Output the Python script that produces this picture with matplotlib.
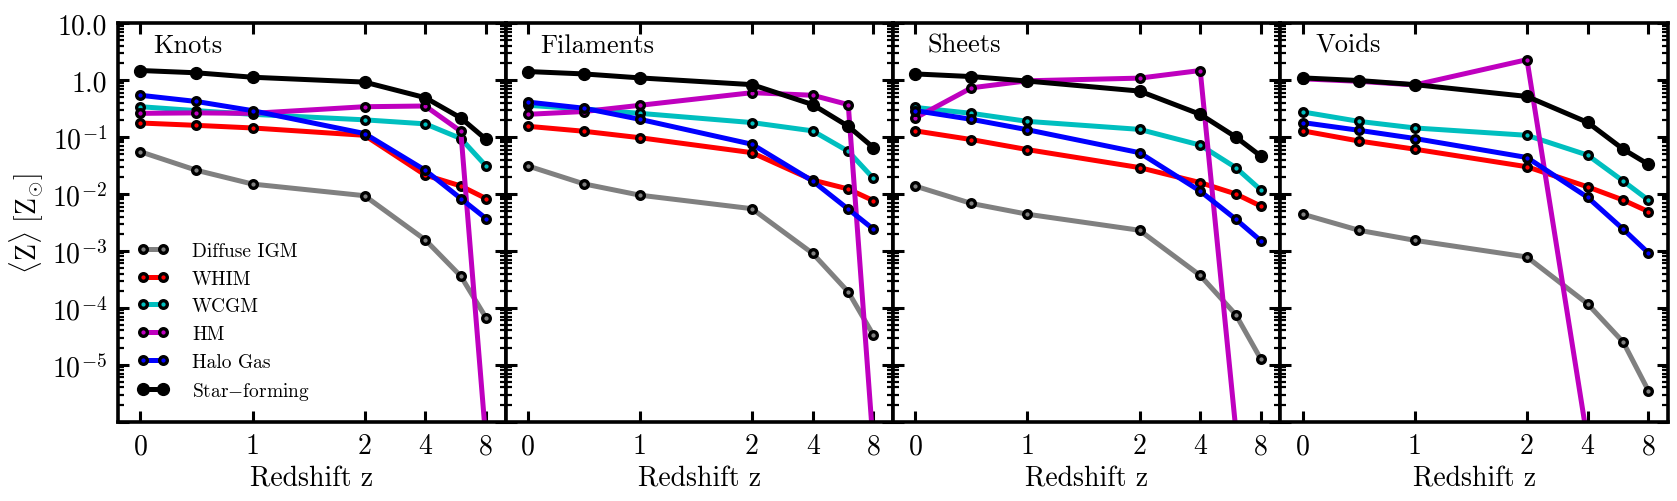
import numpy as np
import matplotlib
matplotlib.use("Agg")
import matplotlib.pyplot as plt

plt.rcParams['font.family'] = 'serif'
plt.rcParams['font.serif'] = ['cmr10']
plt.rcParams['mathtext.fontset'] = 'cm'
plt.rcParams['axes.unicode_minus'] = False
plt.rcParams['axes.formatter.use_mathtext'] = True

# ===== data =====
redshift = [0, 0.5, 1, 2, 4, 6, 8]
panel_names = ['Knots', 'Filaments', 'Sheets', 'Voids']
phase_names = ['Diffuse IGM', 'WHIM', 'WCGM', 'HM', 'Halo Gas', r'Star$-$forming']
phase_colors = ['gray', 'r', 'c', 'm', 'b', 'k']

# mean metallicity per phase, one list per panel
diffuse = [
    [0.055, 0.026, 0.0149, 0.0093, 1.56e-3, 3.6e-4, 6.7e-5],
    [0.031, 0.015, 0.0095, 0.0055, 9.0e-4, 1.9e-4, 3.3e-5],
    [0.0137, 0.0068, 0.0044, 0.0023, 3.7e-4, 7.6e-5, 1.25e-5],
    [0.0044, 0.0023, 0.00153, 7.8e-4, 1.17e-4, 2.5e-5, 3.5e-6],
]
whim = [
    [0.176, 0.16, 0.144, 0.107, 0.0214, 0.0138, 0.0083],
    [0.154, 0.126, 0.097, 0.053, 0.0175, 0.0122, 0.0076],
    [0.128, 0.09, 0.06, 0.029, 0.0158, 0.010, 0.0061],
    [0.128, 0.085, 0.061, 0.030, 0.0133, 0.0078, 0.0049],
]
wcgm = [
    [0.34, 0.29, 0.25, 0.20, 0.17, 0.094, 0.031],
    [0.36, 0.31, 0.26, 0.179, 0.128, 0.056, 0.0187],
    [0.33, 0.26, 0.188, 0.136, 0.072, 0.029, 0.0117],
    [0.275, 0.188, 0.144, 0.107, 0.048, 0.0168, 0.0078],
]
hm = [
    [0.26, 0.265, 0.26, 0.34, 0.35, 0.126, 4.5e-7],
    [0.25, 0.28, 0.36, 0.60, 0.54, 0.37, 3.4e-7],
    [0.216, 0.73, 0.97, 1.08, 1.47, 7.5e-7, 1e-8],
    [1.05, 0.95, 0.82, 2.28, 4.5e-7, 1e-8, 1e-9],
]
halo = [
    [0.54, 0.42, 0.29, 0.115, 0.026, 0.0083, 0.0037],
    [0.41, 0.32, 0.204, 0.0745, 0.0168, 0.0054, 0.0024],
    [0.29, 0.204, 0.134, 0.053, 0.0112, 0.0036, 0.0015],
    [0.179, 0.131, 0.094, 0.0436, 0.0087, 0.0024, 9.2e-4],
]
star_forming = [
    [1.47, 1.34, 1.12, 0.92, 0.49, 0.216, 0.091],
    [1.41, 1.28, 1.09, 0.83, 0.37, 0.154, 0.065],
    [1.28, 1.15, 0.96, 0.64, 0.25, 0.10, 0.046],
    [1.09, 0.98, 0.83, 0.515, 0.18, 0.061, 0.033],
]
phases = [diffuse, whim, wcgm, hm, halo, star_forming]

x_ticks = [0, 1, 2, 4, 8]
y_ticks = [1e-6, 1e-5, 1e-4, 1e-3, 1e-2, 1e-1, 1, 10]
y_ticklabels = ['', r'$10^{-5}$', r'$10^{-4}$', r'$10^{-3}$', r'$10^{-2}$',
                r'$10^{-1}$', '1.0', '10.0']

# ===== figure =====
fig, axes = plt.subplots(1, 4, figsize=(16.77, 5.02), dpi=100, sharey=True)
fig.subplots_adjust(left=0.0704, right=0.9946, bottom=0.158, top=0.952, wspace=0)

for p, ax in enumerate(axes):
    for k, phase in enumerate(phases):
        if k == 5:
            ax.plot(redshift, phase[p], '-o', color='k', lw=3.6, ms=8.5,
                    mec='k', mfc='k', label=phase_names[k])
        else:
            ax.plot(redshift, phase[p], '-o', color=phase_colors[k], lw=3.6,
                    ms=5.5, mec='k', mew=2.4, mfc=phase_colors[k],
                    label=phase_names[k])

    ax.set_xscale('symlog', linthresh=2, linscale=1)
    ax.set_yscale('log')
    ax.set_xlim(-0.2, 10)
    ax.set_ylim(1e-6, 10)
    ax.set_xticks(x_ticks)
    ax.set_xticklabels([str(t) for t in x_ticks])
    ax.xaxis.set_minor_locator(matplotlib.ticker.NullLocator())
    ax.set_yticks(y_ticks)
    ax.set_yticks([m * 10.0**e for e in range(-6, 1) for m in range(2, 10)], minor=True)
    ax.tick_params(which='both', direction='in', top=True, right=True, labelsize=20)
    ax.tick_params(which='major', length=8, width=2.2, pad=8)
    ax.tick_params(which='minor', length=4, width=1.6)
    for s in ax.spines.values():
        s.set_linewidth(2.6)
    ax.set_xlabel('Redshift z', fontsize=20)
    ax.text(0.09, 0.945, panel_names[p], transform=ax.transAxes, fontsize=19,
            ha='left', va='center')

axes[0].set_yticklabels(y_ticklabels)
axes[0].yaxis.set_minor_formatter(matplotlib.ticker.NullFormatter())
axes[0].set_ylabel(r'$\langle \mathrm{Z}\rangle\ [\mathrm{Z}_{\odot}]$', fontsize=20)
axes[0].legend(loc='lower left', numpoints=2, frameon=False, fontsize=14,
               handlelength=1.6, handletextpad=1.2, labelspacing=0.5,
               borderaxespad=0.6)

fig.savefig('out.png', dpi=100)
